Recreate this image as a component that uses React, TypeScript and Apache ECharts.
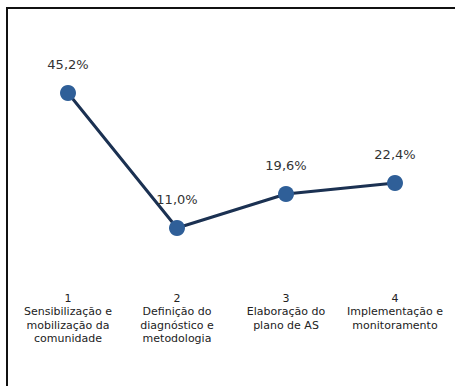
import React, { useEffect, useRef } from "react";
import * as echarts from "echarts";

const categories = [
  "1\nSensibilização e\nmobilização da\ncomunidade",
  "2\nDefinição do\ndiagnóstico e\nmetodologia",
  "3\nElaboração do\nplano de AS",
  "4\nImplementação e\nmonitoramento",
];
const values = [45.2, 11.0, 19.6, 22.4];

export default function App() {
  const ref = useRef<HTMLDivElement>(null);
  useEffect(() => {
    const chart = echarts.init(ref.current!, null, { renderer: "svg" });
    chart.setOption({
      animation: false,
      grid: { left: 13.5, right: 5.5, top: 74, bottom: 114.6, containLabel: false },
      xAxis: {
        type: "category",
        data: categories,
        boundaryGap: true,
        axisLine: { show: false },
        axisTick: { show: false },
        axisLabel: {
          interval: 0,
          margin: 20,
          fontSize: 11,
          lineHeight: 13.5,
          color: "#222",
          fontFamily: "DejaVu Sans, sans-serif",
        },
      },
      yAxis: { type: "value", min: 0, max: 50, show: false, splitLine: { show: false } },
      series: [
        {
          type: "line",
          data: values,
          symbol: "circle",
          symbolSize: 16,
          lineStyle: { color: "#1b3152", width: 3 },
          itemStyle: { color: "#2f5f98" },
          label: {
            show: true,
            position: "top",
            distance: 14,
            fontSize: 13,
            color: "#333",
            fontFamily: "DejaVu Sans, sans-serif",
            formatter: (p: any) => p.value.toFixed(1).replace(".", ",") + "%",
          },
        },
      ],
    });
    return () => chart.dispose();
  }, []);
  return (
    <div style={{ position: "absolute", left: 0, top: 0, width: 455, height: 386, background: "#fff" }}>
      <div
        style={{
          position: "absolute",
          left: 6,
          top: 7,
          width: 470,
          height: 400,
          border: "2px solid #111",
          boxSizing: "border-box",
        }}
      />
      <div ref={ref} style={{ position: "absolute", left: 0, top: 0, width: 455, height: 386 }} />
    </div>
  );
}
